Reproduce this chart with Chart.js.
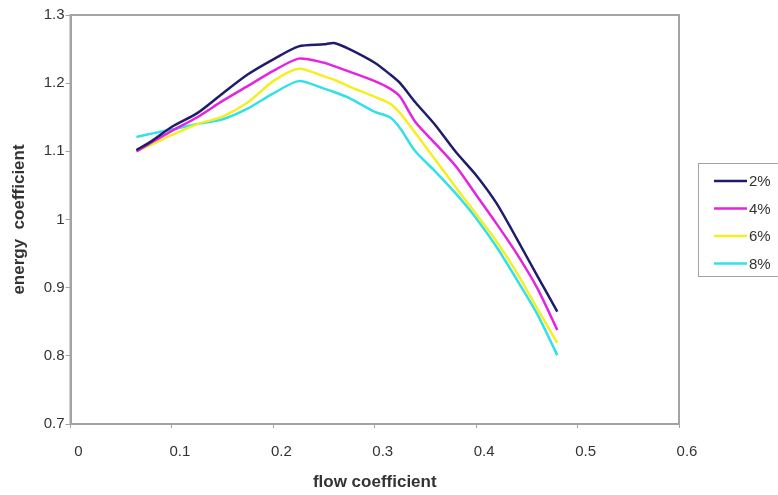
<!DOCTYPE html>
<html>
<head>
<meta charset="utf-8">
<script src="https://cdn.jsdelivr.net/npm/chart.js@4.4.1/dist/chart.umd.min.js"></script>
<style>
    html, body { margin: 0; padding: 0; background: #ffffff; }
    #wrap { width: 778px; height: 495px; position: relative; }
</style>
</head>
<body>
<div id="wrap"><canvas id="myChart" width="778" height="495"></canvas></div>
<script>
"use strict"

// flödeskoefficient, gemensam för alla serier
const flowCoef = [0.065, 0.08, 0.1, 0.125, 0.15, 0.175, 0.2, 0.225, 0.25, 0.26, 0.275, 0.3, 0.315, 0.325, 0.34, 0.36, 0.38, 0.4, 0.42, 0.44, 0.46, 0.48];

const energy2 = [1.102, 1.115, 1.136, 1.156, 1.185, 1.213, 1.235, 1.254, 1.257, 1.259, 1.250, 1.230, 1.213, 1.200, 1.172, 1.138, 1.099, 1.065, 1.024, 0.972, 0.918, 0.865];
const energy4 = [1.100, 1.113, 1.130, 1.150, 1.174, 1.196, 1.218, 1.236, 1.230, 1.225, 1.217, 1.203, 1.192, 1.180, 1.143, 1.111, 1.078, 1.036, 0.994, 0.950, 0.900, 0.838];
const energy6 = [1.100, 1.110, 1.124, 1.140, 1.151, 1.172, 1.203, 1.221, 1.210, 1.205, 1.195, 1.180, 1.170, 1.156, 1.127, 1.087, 1.047, 1.008, 0.968, 0.922, 0.870, 0.819];
const energy8 = [1.121, 1.126, 1.132, 1.140, 1.147, 1.163, 1.185, 1.203, 1.192, 1.187, 1.178, 1.158, 1.150, 1.134, 1.100, 1.070, 1.038, 1.002, 0.960, 0.912, 0.862, 0.801];

const seriesLabels = ["2%", "4%", "6%", "8%"];
const seriesColors = ["#1f1c6c", "#e524e0", "#f6ee22", "#33e0e8"];

const xTicks = [0, 0.6, 0.1];   // min, max, steg
const yTicks = [0.7, 1.3, 0.1];

const axisGrey = "#a3a3a3";
const textColor = "#333333";
const fontFamily = "'Liberation Sans', Arial, sans-serif";

class EnergyChart {
    canvas;
    ctx;
    myChart;

    constructor(canvas) {
        this.canvas = canvas;
        this.ctx = canvas.getContext("2d");
    }

    toPoints(values) {
        return values.map((v, i) => ({ x: flowCoef[i], y: v }));
    }

    buildDatasets() {
        const all = [energy2, energy4, energy6, energy8];
        return all.map((values, i) => ({
            label: seriesLabels[i],
            data: this.toPoints(values),
            borderColor: seriesColors[i],
            backgroundColor: seriesColors[i],
            borderWidth: 2.5,
            pointRadius: 0,
            tension: 0.25,
            fill: false
        }));
    }

    // ram runt plottytan + egen förklaring
    framePlugin() {
        return {
            id: "frame",
            afterDraw(chart) {
                const c = chart.ctx;
                const a = chart.chartArea;
                c.save();
                c.strokeStyle = axisGrey;
                c.lineWidth = 2;
                c.strokeRect(a.left, a.top, a.right - a.left, a.bottom - a.top);

                // förklaring
                c.lineWidth = 1;
                c.strokeRect(698.5, 163.5, 80, 113);
                c.font = "15px " + fontFamily;
                c.textBaseline = "middle";
                c.textAlign = "left";
                chart.data.datasets.forEach((ds, i) => {
                    const y = 181 + i * 27.5;
                    c.strokeStyle = ds.borderColor;
                    c.lineWidth = 2.5;
                    c.beginPath();
                    c.moveTo(714, y);
                    c.lineTo(747, y);
                    c.stroke();
                    c.fillStyle = textColor;
                    c.fillText(ds.label, 749, y + 1);
                });
                c.restore();
            }
        };
    }

    initChart() {
        const font = { family: fontFamily, size: 15 };
        const titleFont = { family: fontFamily, size: 17, weight: "bold" };
        const fmt = (value) => String(Math.round(value * 10) / 10);

        this.myChart = new Chart(this.ctx, {
            type: "line",
            data: { datasets: this.buildDatasets() },
            plugins: [this.framePlugin()],
            options: {
                responsive: false,
                animation: false,
                layout: { padding: { top: 15, right: 99, bottom: 0, left: 0 } },
                plugins: {
                    legend: { display: false },
                    tooltip: { enabled: false }
                },
                scales: {
                    x: {
                        type: "linear",
                        min: xTicks[0],
                        max: xTicks[1],
                        ticks: { stepSize: xTicks[2], color: textColor, font: font, padding: 15, labelOffset: 8, maxRotation: 0, callback: fmt },
                        grid: { drawOnChartArea: false, drawTicks: true, tickLength: 4, color: axisGrey, lineWidth: 1 },
                        border: { display: true, color: axisGrey, width: 2 },
                        title: { display: true, text: "flow coefficient", color: textColor, font: titleFont, padding: { top: 0, bottom: 2 } },
                        afterFit: (scale) => { scale.height = 71; }
                    },
                    y: {
                        min: yTicks[0],
                        max: yTicks[1],
                        ticks: { stepSize: yTicks[2], color: textColor, font: font, padding: 1, callback: fmt },
                        grid: { drawOnChartArea: false, drawTicks: true, tickLength: 5, color: axisGrey, lineWidth: 1 },
                        border: { display: true, color: axisGrey, width: 2 },
                        title: { display: true, text: "energy  coefficient", color: textColor, font: titleFont, padding: { top: 9, bottom: 0 } },
                        afterFit: (scale) => { scale.width = 70.5; }
                    }
                }
            }
        });
        console.log("initChart completed");
    }
}

const energyChart = new EnergyChart(document.getElementById("myChart"));
energyChart.initChart();
</script>
</body>
</html>
